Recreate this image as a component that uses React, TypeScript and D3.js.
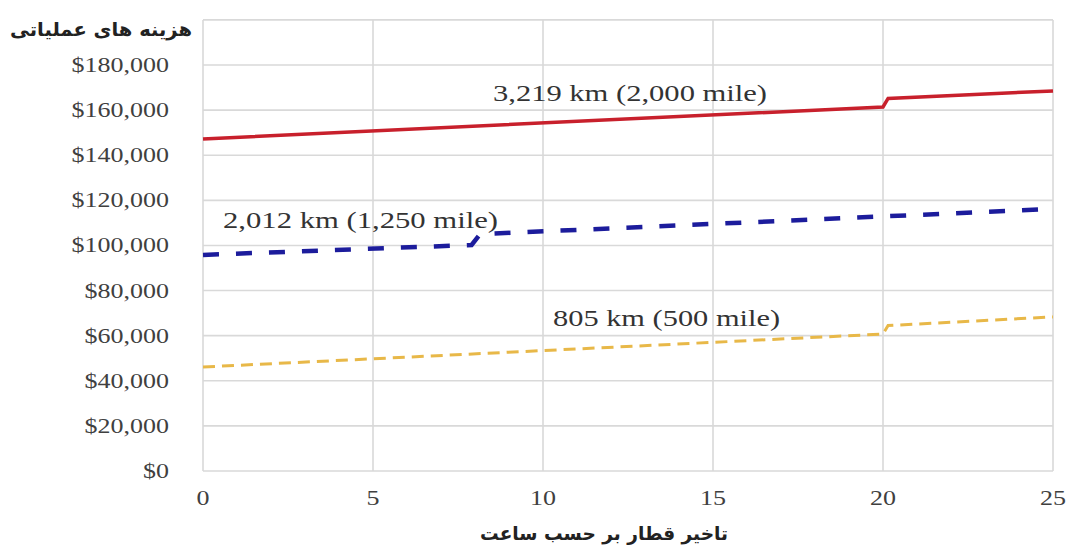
import React from "react";
import * as d3 from "d3";

const W = 1073;
const H = 548;

const xTicks = [0, 5, 10, 15, 20, 25];
const yTicks = [0, 20000, 40000, 60000, 80000, 100000, 120000, 140000, 160000, 180000];

// delay hours vs operating cost
const redX = [0, 20, 20.15, 25];
const redY = [147200, 161400, 165200, 168500];
const blueX = [0, 7.9, 8.15, 25];
const blueY = [95800, 100200, 105000, 116200];
const yellowX = [0, 20, 20.15, 25];
const yellowY = [46100, 60700, 64500, 68300];

const labels = [
  { text: "3,219 km (2,000 mile)", x: 493, y: 101, w: 274 },
  { text: "2,012 km (1,250 mile)", x: 223, y: 228, w: 275 },
  { text: "805 km (500 mile)", x: 553, y: 326, w: 227 },
];

const yTitle = "هزینه های عملیاتی";
const xTitle = "تاخیر قطار بر حسب ساعت";

export default function App() {
  const x = d3.scaleLinear().domain([0, 25]).range([203, 1053]);
  const y = d3.scaleLinear().domain([0, 180000]).range([471, 65]);
  const line = d3
    .line<[number, number]>()
    .x((d) => x(d[0]))
    .y((d) => y(d[1]));
  const zip = (a: number[], b: number[]) => a.map((v, i) => [v, b[i]] as [number, number]);
  const fmt = (v: number) => "$" + d3.format(",")(v);
  const serif = "'Liberation Serif', 'Times New Roman', serif";

  return (
    <svg
      width={W}
      height={H}
      style={{ position: "absolute", left: 0, top: 0, background: "#fff" }}
    >
      <rect width={W} height={H} fill="#fff" />
      {/* grid */}
      {[...yTicks, 200000].map((t) => (
        <line key={"h" + t} x1={x(0)} x2={x(25)} y1={y(t)} y2={y(t)} stroke="#d9d9d9" strokeWidth={1.6} />
      ))}
      {xTicks.map((t) => (
        <line key={"v" + t} x1={x(t)} x2={x(t)} y1={y(200000)} y2={y(0)} stroke="#d9d9d9" strokeWidth={1.6} />
      ))}
      {/* y tick labels */}
      {yTicks.map((t) => (
        <text
          key={"yt" + t}
          transform={`translate(169,${y(t) + 7}) scale(1.3,1)`}
          textAnchor="end"
          fontFamily={serif}
          fontSize={20}
          fill="#404040"
        >
          {fmt(t)}
        </text>
      ))}
      {/* x tick labels */}
      {xTicks.map((t) => (
        <text
          key={"xt" + t}
          transform={`translate(${x(t)},${505}) scale(1.3,1)`}
          textAnchor="middle"
          fontFamily={serif}
          fontSize={20}
          fill="#404040"
        >
          {t}
        </text>
      ))}
      {/* series */}
      <path d={line(zip(yellowX, yellowY)) || ""} fill="none" stroke="#e8b848" strokeWidth={3} strokeDasharray="12 7" />
      <path d={line(zip(blueX, blueY)) || ""} fill="none" stroke="#1c1c9c" strokeWidth={4.5} strokeDasharray="16 17" />
      <path d={line(zip(redX, redY)) || ""} fill="none" stroke="#c8202c" strokeWidth={3.5} />
      {/* labels */}
      {labels.map((l) => (
        <text
          key={l.text}
          x={l.x}
          y={l.y}
          fontFamily={serif}
          fontSize={24}
          fill="#333"
          textLength={l.w}
          lengthAdjust="spacingAndGlyphs"
        >
          {l.text}
        </text>
      ))}
      {/* titles */}
      <text
        x={10}
        y={36}
        fontFamily="'DejaVu Sans', sans-serif"
        fontWeight="bold"
        fontSize={19}
        fill="#222"
        textLength={182}
        lengthAdjust="spacingAndGlyphs"
        direction="rtl"
        unicodeBidi="embed"
        textAnchor="end"
      >
        {yTitle}
      </text>
      <text
        x={480}
        y={540}
        fontFamily="'DejaVu Sans', sans-serif"
        fontWeight="bold"
        fontSize={19}
        fill="#222"
        textLength={248}
        lengthAdjust="spacingAndGlyphs"
        direction="rtl"
        unicodeBidi="embed"
        textAnchor="end"
      >
        {xTitle}
      </text>
    </svg>
  );
}
